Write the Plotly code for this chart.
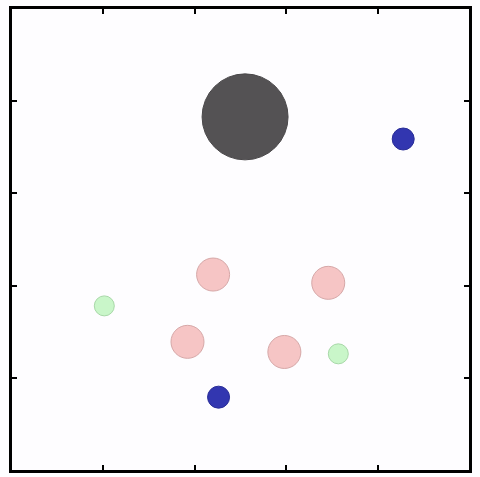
import plotly.graph_objects as go

# Data (arbitrary units; axes 0..5)
x_vals = [2.55, 4.28, 2.20, 3.46, 1.01, 1.92, 2.98, 3.57, 2.26]
y_vals = [3.83, 3.59, 2.12, 2.03, 1.78, 1.39, 1.28, 1.26, 0.79]
sizes = [86, 22, 33, 33, 20, 33, 33, 20, 22]
groups = ["gray", "blue", "pink", "pink", "green", "pink", "pink", "green", "blue"]

fill = {"gray": "#545254", "blue": "#3236b0", "pink": "#f6c5c5", "green": "#c9f6c9"}
edge = {"gray": "#4a484a", "blue": "#2a2e98", "pink": "#d6a8a8", "green": "#a8d8a8"}

fig = go.Figure()
fig.add_trace(go.Scatter(
    x=x_vals, y=y_vals, mode="markers",
    marker=dict(size=sizes, color=[fill[g] for g in groups],
                line=dict(color=[edge[g] for g in groups], width=1), opacity=1),
    hoverinfo="skip", showlegend=False,
))

ax = dict(range=[0, 5], tickvals=[1, 2, 3, 4], showticklabels=False,
          showgrid=False, zeroline=False, showline=True, linecolor="black",
          linewidth=3, mirror="ticks", ticks="inside", ticklen=5,
          tickwidth=1.5, tickcolor="black")

fig.update_layout(
    width=480, height=477,
    margin=dict(l=12, r=11, t=9, b=7, pad=0),
    paper_bgcolor="#fefdff", plot_bgcolor="#fefdff",
    xaxis=ax, yaxis=ax,
)
fig.write_html("out.html")
